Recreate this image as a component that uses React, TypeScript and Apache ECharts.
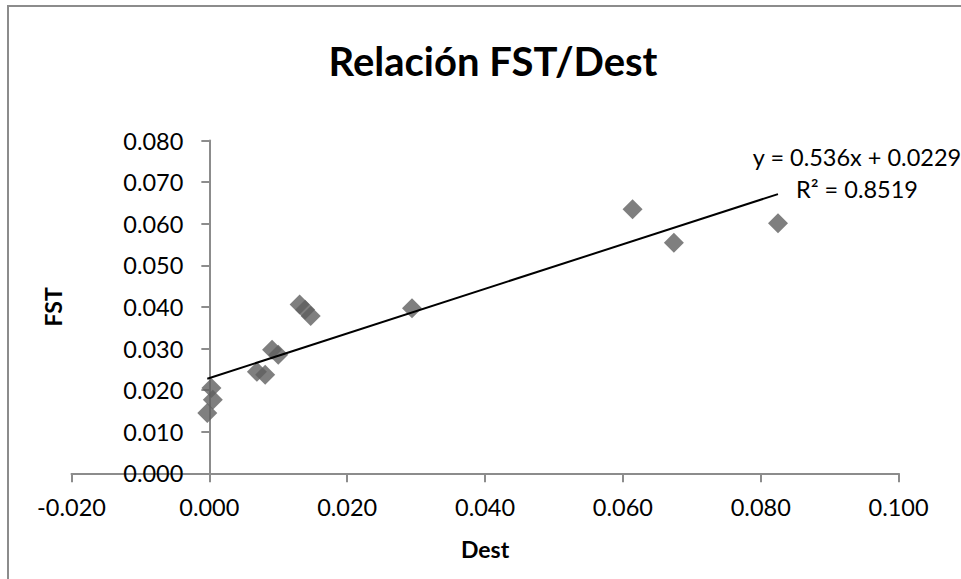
import { useEffect, useRef } from "react";
import * as echarts from "echarts";

// Dest (x) and FST (y) for each sampled pair
const destValues = [0.0003, 0.0005, -0.0003, 0.0069, 0.0081, 0.0091, 0.01, 0.0131, 0.0139, 0.0147, 0.0294, 0.0614, 0.0674, 0.0825];
const fstValues = [0.0205, 0.0177, 0.0145, 0.0244, 0.0237, 0.0297, 0.0285, 0.0406, 0.0393, 0.0378, 0.0397, 0.0635, 0.0554, 0.0601];

// Linear trend fitted to the pairs
const trendSlope = 0.536;
const trendIntercept = 0.0229;
const trendR2 = 0.8519;

// Axis ranges and tick steps
const xMin = -0.02;
const xMax = 0.1;
const xStep = 0.02;
const yMin = 0;
const yMax = 0.08;
const yStep = 0.01;

const chartTitle = "Relación FST/Dest";
const xName = "Dest";
const yName = "FST";

const FONT = "Lato, 'Liberation Sans', sans-serif";
const AXIS_GREY = "#8c8c8c";

// Plot rectangle inside the 961x579 canvas
const GRID_LEFT = 71.5;
const GRID_RIGHT = 62.4;
const GRID_TOP = 140.5;
const GRID_BOTTOM = 105.7;
const CANVAS_W = 961;

export default function App() {
  const ref = useRef<HTMLDivElement>(null);

  useEffect(() => {
    if (!ref.current) return;
    const chart = echarts.init(ref.current, undefined, { renderer: "svg" });

    const points = destValues.map((x, i) => [x, fstValues[i]]);
    const xLo = Math.min(...destValues);
    const xHi = Math.max(...destValues);
    const trendData = [
      [xLo, trendSlope * xLo + trendIntercept],
      [xHi, trendSlope * xHi + trendIntercept],
    ];

    // The y axis crosses at Dest = 0; its labels sit beside it rather than at the plot's left edge.
    const plotW = CANVAS_W - GRID_LEFT - GRID_RIGHT;
    const zeroOffset = ((0 - xMin) / (xMax - xMin)) * plotW;

    const fmt = (v: number) => v.toFixed(3);

    chart.setOption({
      animation: false,
      backgroundColor: "#ffffff",
      textStyle: { fontFamily: FONT },
      title: {
        text: chartTitle,
        left: 488,
        top: 36,
        textAlign: "center",
        textStyle: { fontFamily: FONT, fontWeight: "bold", fontSize: 40, color: "#000" },
      },
      grid: {
        left: GRID_LEFT,
        right: GRID_RIGHT,
        top: GRID_TOP,
        bottom: GRID_BOTTOM,
        containLabel: false,
        outerBoundsMode: "none",
      },
      xAxis: {
        type: "value",
        min: xMin,
        max: xMax,
        interval: xStep,
        name: xName,
        nameLocation: "middle",
        nameGap: 64,
        nameTextStyle: { fontFamily: FONT, fontWeight: "bold", fontSize: 23, color: "#000" },
        axisLine: { onZero: true, lineStyle: { color: AXIS_GREY, width: 2 } },
        axisTick: { show: true, length: 9, lineStyle: { color: AXIS_GREY, width: 2 } },
        axisLabel: { formatter: fmt, fontSize: 23.5, color: "#000", margin: 22, fontFamily: FONT },
        splitLine: { show: false },
      },
      yAxis: {
        type: "value",
        min: yMin,
        max: yMax,
        interval: yStep,
        name: yName,
        nameLocation: "middle",
        nameGap: 7,
        nameTextStyle: { fontFamily: FONT, fontWeight: "bold", fontSize: 23, color: "#000" },
        axisLine: { onZero: true, lineStyle: { color: AXIS_GREY, width: 2 } },
        axisTick: { show: true, length: 8, lineStyle: { color: AXIS_GREY, width: 2 } },
        axisLabel: {
          formatter: fmt,
          fontSize: 23.5,
          color: "#000",
          margin: 26 - zeroOffset,
          fontFamily: FONT,
        },
        splitLine: { show: false },
      },
      series: [
        {
          type: "scatter",
          data: points,
          symbol: "diamond",
          symbolSize: 20,
          itemStyle: { color: "#5f5f5f" },
          z: 2,
        },
        {
          type: "line",
          data: trendData,
          showSymbol: false,
          symbol: "none",
          lineStyle: { color: "#000", width: 2 },
          z: 3,
        },
      ],
      graphic: [
        {
          type: "rect",
          shape: { x: 8, y: 6, width: 1000, height: 700 },
          style: { fill: "none", stroke: AXIS_GREY, lineWidth: 2 },
          silent: true,
        },
        {
          type: "text",
          x: 857,
          y: 157,
          style: {
            text: `y = ${trendSlope}x + ${trendIntercept}`,
            fontFamily: FONT,
            fontSize: 23.5,
            fill: "#000",
            align: "center",
            verticalAlign: "middle",
          },
        },
        {
          type: "text",
          x: 857,
          y: 189,
          style: {
            text: `R² = ${trendR2}`,
            fontFamily: FONT,
            fontSize: 23.5,
            fill: "#000",
            align: "center",
            verticalAlign: "middle",
          },
        },
      ],
    });

    return () => chart.dispose();
  }, []);

  return (
    <div
      ref={ref}
      style={{ position: "fixed", left: 0, top: 0, width: 961, height: 579, background: "#fff" }}
    />
  );
}
